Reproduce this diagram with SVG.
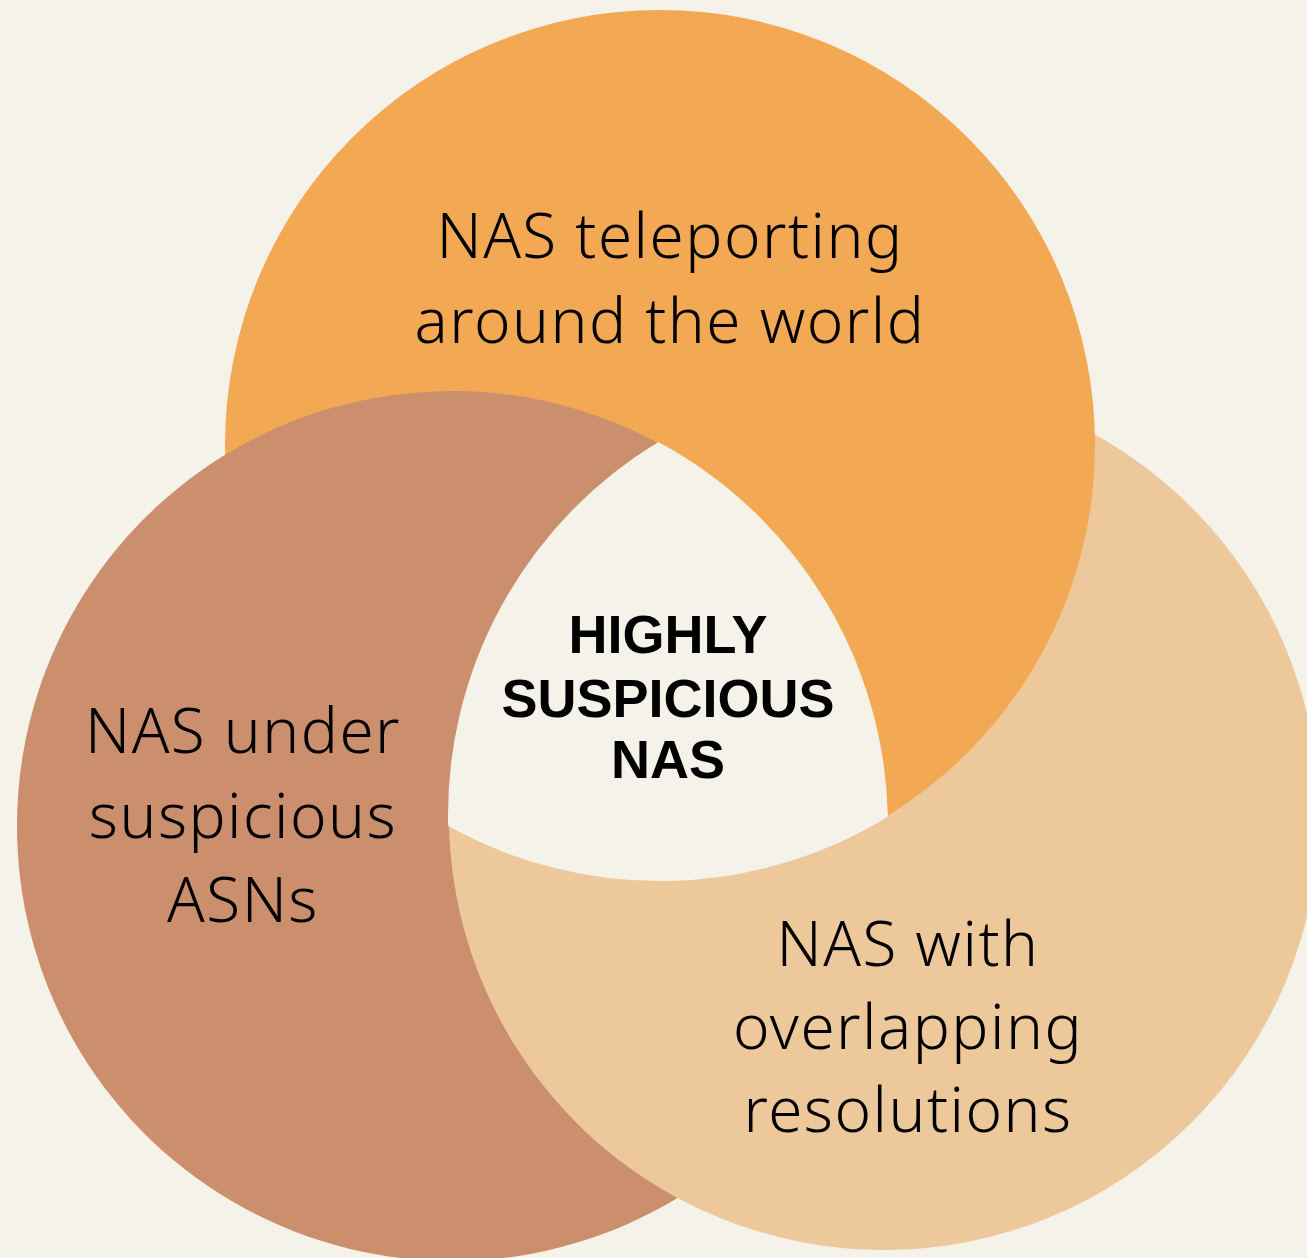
<svg xmlns="http://www.w3.org/2000/svg" width="1307" height="1258" viewBox="0 0 1307 1258">
  <style>
    .lbl { font-family: "Noto Sans", "Liberation Sans", sans-serif; font-size: 62px; font-weight: 300; letter-spacing: 1.5px; fill: #000000; text-anchor: middle; }
    .ctr { font-family: "Liberation Sans", "Noto Sans", sans-serif; font-size: 54px; font-weight: 700; fill: #000000; text-anchor: middle; }
  </style>
  <rect x="0" y="0" width="1307" height="1258" fill="#F5F2EA"/>

  <g id="circle-overlapping">
    <circle cx="884" cy="815" r="435" fill="#EDC89A"/>
  </g>
  <g id="circle-teleporting">
    <circle cx="660" cy="445" r="435" fill="#F3A853"/>
  </g>
  <g id="circle-asns">
    <path d="M 658.39 443.08 A 435 435 0 1 0 677.61 1197.92 A 435 435 0 0 1 658.39 443.08 Z" fill="#CB8F6E"/>
  </g>
  <g id="center-highly-suspicious">
    <path d="M 658.39 443.08 A 435 435 0 0 1 886.89 816.14 A 435 435 0 0 1 449.13 825.47 A 435 435 0 0 1 658.39 443.08 Z" fill="#F5F2EA" stroke="#F5F2EA" stroke-width="2" stroke-linejoin="round"/>
  </g>

  <g id="label-teleporting">
    <text class="lbl" x="670" y="258">NAS teleporting</text>
    <text class="lbl" x="670" y="343">around the world</text>
  </g>
  <g id="label-asns">
    <text class="lbl" x="243" y="753">NAS under</text>
    <text class="lbl" x="243" y="838">suspicious</text>
    <text class="lbl" x="243" y="922">ASNs</text>
  </g>
  <g id="label-overlapping">
    <text class="lbl" x="908" y="966">NAS with</text>
    <text class="lbl" x="908" y="1049">overlapping</text>
    <text class="lbl" x="908" y="1132">resolutions</text>
  </g>
  <g id="label-center">
    <text class="ctr" x="668" y="653">HIGHLY</text>
    <text class="ctr" x="668" y="717">SUSPICIOUS</text>
    <text class="ctr" x="668" y="778">NAS</text>
  </g>
</svg>
